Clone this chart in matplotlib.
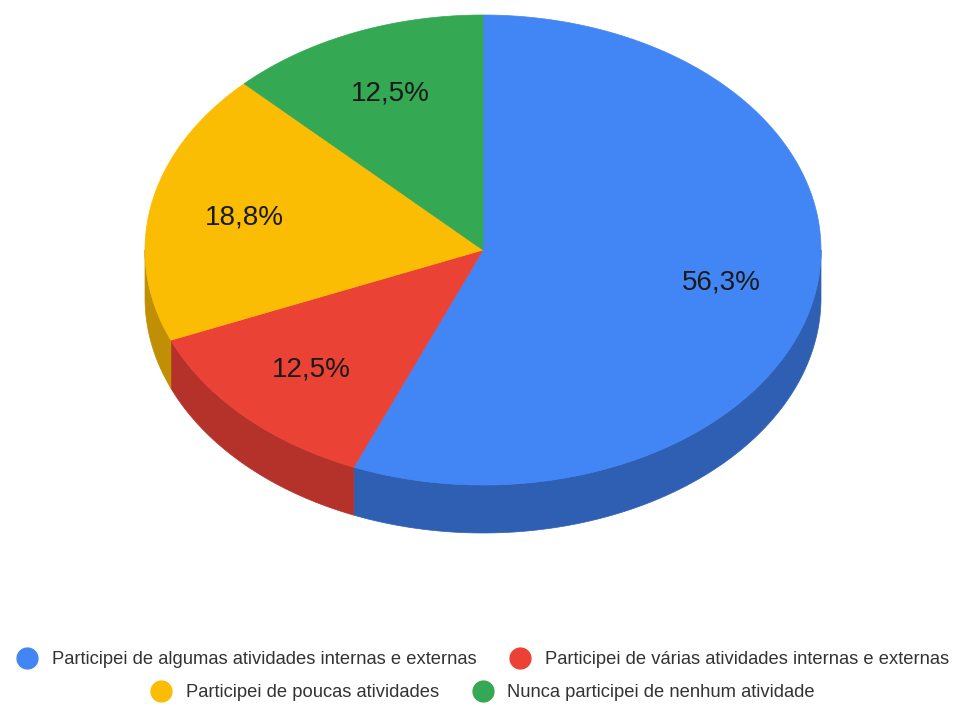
import numpy as np
import matplotlib.pyplot as plt
from matplotlib.patches import Polygon
from matplotlib.lines import Line2D

plt.rcParams['font.family'] = ['Liberation Sans', 'DejaVu Sans']

# --- data ---
labels = [
    "Participei de algumas atividades internas e externas",
    "Participei de várias atividades internas e externas",
    "Participei de poucas atividades",
    "Nunca participei de nenhum atividade",
]
values = [56.3, 12.5, 18.8, 12.5]
pct_text = ["56,3%", "12,5%", "18,8%", "12,5%"]
top_colors = ["#4285F4", "#EA4335", "#FBBC04", "#34A853"]
side_colors = ["#2F5FB3", "#B5322A", "#C08F04", "#267D3E"]

# --- layout of the tilted pie (pixel space) ---
cx, cy = 483, 250
rx, ry = 338, 235
depth = 48


def ellipse_pts(t0, t1, dy=0.0, n=200):
    t = np.radians(np.linspace(t0, t1, n))
    return np.column_stack([cx + rx * np.sin(t), cy - ry * np.cos(t) + dy])


fig = plt.figure(figsize=(9.59, 7.11), dpi=100)
ax = fig.add_axes([0, 0, 1, 1])
ax.set_xlim(0, 959)
ax.set_ylim(711, 0)
ax.axis("off")

vals = np.array(values)
edges = np.concatenate([[0], np.cumsum(vals) / vals.sum() * 360])

# side walls (only the front half, 90..270 deg, is visible)
for i in range(len(vals)):
    a, b = max(edges[i], 90), min(edges[i + 1], 270)
    if b <= a:
        continue
    top = ellipse_pts(a, b)
    bot = ellipse_pts(a, b, dy=depth)[::-1]
    ax.add_patch(Polygon(np.vstack([top, bot]), closed=True,
                         facecolor=side_colors[i], edgecolor=side_colors[i],
                         lw=0.5, zorder=1))

# top face
for i in range(len(vals)):
    arc = ellipse_pts(edges[i], edges[i + 1])
    pts = np.vstack([[cx, cy], arc])
    ax.add_patch(Polygon(pts, closed=True, facecolor=top_colors[i],
                         edgecolor=top_colors[i], lw=0.5, zorder=2))
    mid = np.radians((edges[i] + edges[i + 1]) / 2)
    f = 0.72
    ax.text(cx + rx * f * np.sin(mid), cy - ry * f * np.cos(mid), pct_text[i],
            ha="center", va="center", fontsize=20, color="#1a1a1a", zorder=3)

# --- legend, two centred rows ---
def handle(c):
    return Line2D([], [], marker="o", ls="none", markersize=15,
                  markerfacecolor=c, markeredgecolor=c)

rows = [(0, 1, 0.072), (2, 3, 0.026)]
for i, j, y in rows:
    fig.legend([handle(top_colors[i]), handle(top_colors[j])],
               [labels[i], labels[j]], loc="center", bbox_to_anchor=(0.503, y),
               ncol=2, frameon=False, fontsize=13.2, labelcolor="#333333",
               handletextpad=0.75, columnspacing=1.8, handlelength=1.2,
               borderpad=0, borderaxespad=0)

fig.savefig("out.png", dpi=100, facecolor="white")
